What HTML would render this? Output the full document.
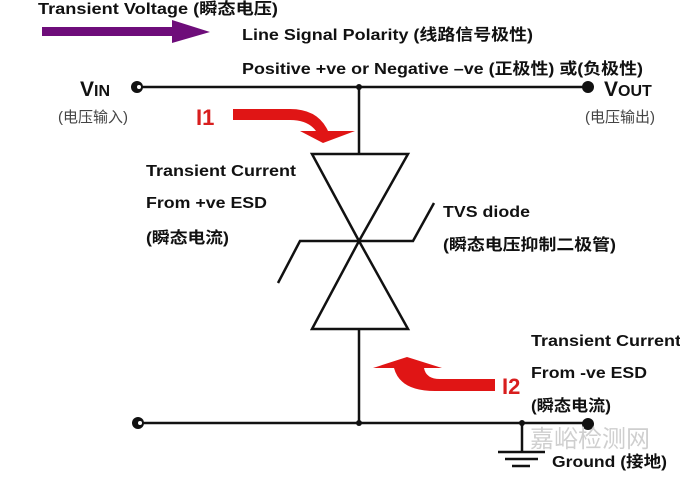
<!DOCTYPE html>
<html><head><meta charset="utf-8"><style>
html,body{margin:0;padding:0;background:#fff;}
svg{display:block;}
text{font-family:"Liberation Sans","Noto Sans CJK SC",sans-serif;}
.b{font-weight:bold;font-size:16px;fill:#111;}
</style></head><body>
<svg width="680" height="477" viewBox="0 0 680 477" xmlns="http://www.w3.org/2000/svg">
<rect width="680" height="477" fill="#fff"/>
<polygon points="42,27 172,27 172,20 210,32 172,43 172,36 42,36" fill="#6e0d7a"/>
<text x="38" y="14" class="b" textLength="240" lengthAdjust="spacingAndGlyphs">Transient Voltage (瞬态电压)</text>
<text x="242" y="40" class="b" textLength="291" lengthAdjust="spacingAndGlyphs">Line Signal Polarity (线路信号极性)</text>
<text x="242" y="74" class="b" textLength="401" lengthAdjust="spacingAndGlyphs">Positive +ve or Negative –ve (正极性) 或(负极性)</text>
<g stroke="#111" stroke-width="2.5" fill="none">
<line x1="137" y1="87" x2="588" y2="87"/>
<line x1="359" y1="87" x2="359" y2="154"/>
<line x1="359" y1="329" x2="359" y2="423"/>
<line x1="138" y1="423" x2="588" y2="423"/>
<line x1="522" y1="423" x2="522" y2="452"/>
<line x1="498" y1="452" x2="545" y2="452"/>
<line x1="505" y1="459" x2="538" y2="459"/>
<line x1="512" y1="466" x2="530" y2="466"/>
<polygon points="312,154 408,154 359,241"/>
<polygon points="312,329 408,329 359,241"/>
<polyline points="278,283 300,241 413,241 434,203"/>
</g>
<g fill="#111">
<circle cx="137" cy="87" r="6"/><circle cx="588" cy="87" r="6"/>
<circle cx="138" cy="423" r="6"/><circle cx="588" cy="424" r="6"/>
<circle cx="359" cy="87" r="3"/><circle cx="359" cy="423" r="3"/><circle cx="522" cy="423" r="3"/>
</g>
<circle cx="139" cy="87" r="2" fill="#fff"/><circle cx="140" cy="423" r="2" fill="#fff"/>
<text x="80" y="96" font-size="21" font-weight="bold" fill="#111">V<tspan font-size="16">IN</tspan></text>
<text x="604" y="96" font-size="21" font-weight="bold" fill="#111">V<tspan font-size="16">OUT</tspan></text>
<text x="58" y="122" font-size="15" fill="#444">(电压输入)</text>
<text x="585" y="122" font-size="15" fill="#444">(电压输出)</text>
<text x="196" y="125" font-size="22" font-weight="bold" fill="#d81e1e">I1</text>
<path d="M233,109 L290,109 Q318,109 328,131 L355,131 L323,143 L300,131 L316,131 Q308,120 290,120 L233,120 Z" fill="#e01515"/>
<text x="502" y="394" font-size="22" font-weight="bold" fill="#d81e1e">I2</text>
<path d="M495,379 L440,379 Q426,379 424,368 L442,368 L407,357 L373,368 L394,368 Q400,391 435,391 L495,391 Z" fill="#e01515"/>
<text x="146" y="176" class="b" textLength="150" lengthAdjust="spacingAndGlyphs">Transient Current</text>
<text x="146" y="208" class="b" textLength="121" lengthAdjust="spacingAndGlyphs">From +ve ESD</text>
<text x="146" y="243" class="b" textLength="83" lengthAdjust="spacingAndGlyphs">(瞬态电流)</text>
<text x="443" y="217" class="b" textLength="87" lengthAdjust="spacingAndGlyphs">TVS diode</text>
<text x="443" y="250" class="b" textLength="173" lengthAdjust="spacingAndGlyphs">(瞬态电压抑制二极管)</text>
<text x="531" y="346" class="b" textLength="150" lengthAdjust="spacingAndGlyphs">Transient Current</text>
<text x="531" y="378" class="b" textLength="116" lengthAdjust="spacingAndGlyphs">From -ve ESD</text>
<text x="531" y="411" class="b" textLength="80" lengthAdjust="spacingAndGlyphs">(瞬态电流)</text>
<text x="530" y="447" font-size="24" fill="#cfcfcf">嘉峪检测网</text>
<text x="552" y="467" class="b" textLength="115" lengthAdjust="spacingAndGlyphs">Ground (接地)</text>
</svg>
</body></html>
